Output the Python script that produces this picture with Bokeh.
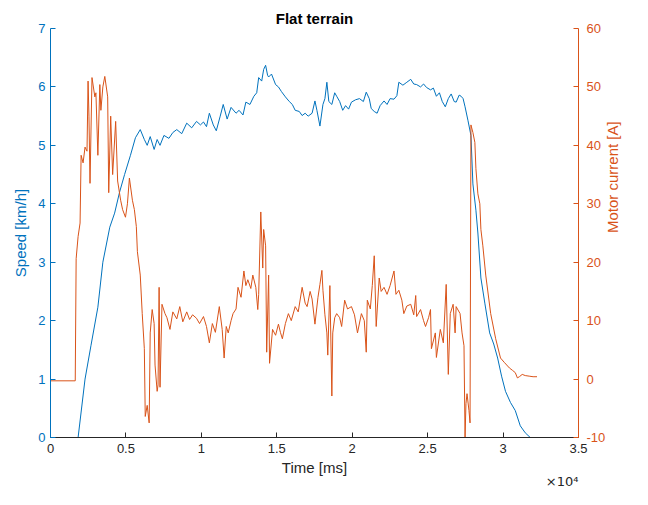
import math
from bokeh.plotting import figure
from bokeh.models import Range1d, LinearAxis, FixedTicker, Title
from bokeh.embed import file_html
from bokeh.resources import INLINE

# ---- data (time in ms) ----
speed_t = [1830, 2290, 2680, 3140, 3470, 3930, 4250, 4580, 4910, 5300,
           5630, 5950, 6220, 6410, 6610, 6870, 7070, 7260, 7520, 7850,
           8110, 8370, 8700, 9030, 9360, 9680, 9940, 10140, 10340, 10530,
           10790, 10990, 11250, 11450, 11710, 11970, 12300, 12500, 12760, 12950,
           13220, 13480, 13670, 13800, 14000, 14130, 14260, 14390, 14460, 14650,
           14920, 15110, 15310, 15570, 15830, 16030, 16220, 16490, 16680, 16880,
           17080, 17340, 17530, 17660, 17860, 18060, 18190, 18320, 18450, 18650,
           18840, 18970, 19170, 19370, 19560, 19760, 19950, 20220, 20480, 20740,
           20930, 21130, 21260, 21460, 21650, 21850, 22110, 22310, 22510, 22770,
           22960, 23090, 23360, 23620, 23880, 24080, 24270, 24530, 24730, 24930,
           25190, 25380, 25580, 25780, 25970, 26170, 26370, 26560, 26760, 26890,
           27090, 27220, 27350, 27480, 27670, 27870, 28000, 28200, 28330, 28530,
           28790, 29110, 29380, 29640, 29900, 30160, 30490, 30810, 31140, 31470,
           31800, 32060]
speed_v = [0.0, 1.0, 1.57, 2.23, 3.0, 3.6, 3.84, 4.2, 4.5, 4.83,
           5.13, 5.27, 5.1, 5.0, 5.15, 4.93, 5.1, 5.0, 5.17, 5.12,
           5.22, 5.27, 5.2, 5.38, 5.3, 5.41, 5.35, 5.4, 5.32, 5.55,
           5.35, 5.25, 5.5, 5.7, 5.45, 5.65, 5.55, 5.6, 5.52, 5.74,
           5.7, 5.84, 5.9, 6.16, 6.1, 6.3, 6.37, 6.2, 6.17, 6.22,
           6.04, 6.0, 5.92, 5.83, 5.75, 5.7, 5.6, 5.58, 5.51, 5.55,
           5.5, 5.55, 5.76, 5.6, 5.33, 5.7, 5.8, 6.08, 5.75, 5.7,
           5.9, 5.84, 5.75, 5.6, 5.68, 5.62, 5.74, 5.78, 5.8, 5.75,
           5.91, 5.8, 5.63, 5.58, 5.55, 5.68, 5.76, 5.7, 5.8, 5.79,
           5.85, 6.08, 6.03, 6.08, 6.13, 6.05, 6.04, 6.0, 6.05, 5.99,
           5.95, 5.98, 5.84, 5.9, 5.75, 5.66, 5.8, 5.88, 5.75, 5.74,
           5.86, 5.84, 5.8, 5.66, 5.43, 5.17, 4.34, 3.89, 3.5, 2.73,
           2.3, 1.79, 1.6, 1.36, 1.05, 0.79, 0.6, 0.46, 0.2, 0.08,
           0.0, -0.1]

current_t = [0, 1640, 1700, 1830, 1960, 2030, 2160, 2290, 2420, 2490,
             2550, 2620, 2750, 2940, 3010, 3140, 3270, 3340, 3470, 3600,
             3790, 3860, 3990, 4120, 4320, 4450, 4650, 4780, 4970, 5100,
             5230, 5430, 5560, 5690, 5760, 5950, 6080, 6220, 6280, 6410,
             6540, 6610, 6740, 6870, 6930, 7070, 7130, 7200, 7260, 7390,
             7590, 7720, 7920, 8110, 8370, 8570, 8770, 9030, 9220, 9420,
             9680, 9880, 10140, 10340, 10530, 10730, 10930, 11190, 11380, 11510,
             11650, 11780, 11970, 12100, 12300, 12430, 12630, 12820, 12950, 13080,
             13280, 13410, 13610, 13740, 13800, 13940, 14070, 14130, 14260, 14330,
             14460, 14520, 14720, 14920, 15110, 15240, 15370, 15570, 15770, 15960,
             16220, 16420, 16680, 16880, 17010, 17210, 17340, 17530, 17730, 17860,
             17990, 18060, 18190, 18320, 18380, 18520, 18650, 18710, 18840, 18970,
             19170, 19300, 19500, 19690, 19950, 20150, 20350, 20610, 20800, 20930,
             21000, 21200, 21330, 21460, 21590, 21790, 21920, 22110, 22310, 22510,
             22770, 22900, 23090, 23290, 23420, 23620, 23880, 24080, 24210, 24270,
             24530, 24730, 24860, 25060, 25190, 25250, 25510, 25580, 25840, 26040,
             26230, 26370, 26500, 26690, 26820, 26890, 27150, 27280, 27410, 27480,
             27540, 27610, 27740, 27810, 27870, 28000, 28130, 28200, 28330, 28460,
             28530, 28660, 28850, 29180, 29510, 29830, 30100, 30420, 30620, 30810,
             30950, 31080, 31270, 31470, 31730, 31990, 32250]
current_v = [-0.3, -0.3, 20.6, 24.4, 26.7, 38.3, 37.0, 39.7, 39.0, 51.0,
             45.0, 33.5, 51.6, 48.3, 49.0, 38.3, 50.4, 46.0, 50.0, 51.8,
             48.3, 31.9, 45.0, 35.0, 44.1, 33.9, 30.6, 29.0, 27.7, 30.0,
             34.4, 30.6, 29.0, 26.1, 21.8, 17.8, 11.2, 5.2, -6.4, -4.5,
             -7.5, 7.9, 11.9, 9.5, 2.4, -2.1, -1.0, 15.7, -1.4, 12.8,
             11.2, 10.5, 8.5, 11.5, 10.3, 12.4, 9.8, 11.5, 10.2, 11.0,
             10.4, 9.5, 10.7, 9.0, 6.2, 9.5, 8.0, 12.4, 8.5, 3.6,
             9.0, 7.9, 10.0, 11.2, 12.0, 15.7, 14.0, 18.5, 16.0, 17.0,
             15.5, 17.8, 15.7, 11.9, 14.5, 28.6, 19.0, 25.6, 22.8, 4.6,
             17.8, 2.7, 8.5, 7.5, 9.4, 8.0, 6.9, 9.5, 11.2, 10.0,
             12.4, 11.5, 15.7, 13.0, 12.4, 15.0, 13.7, 9.4, 14.0, 16.2,
             18.6, 15.2, 11.0, 7.9, 4.1, 16.0, -2.9, 7.9, 10.5, 11.2,
             10.5, 9.0, 13.5, 12.0, 12.4, 11.0, 7.9, 11.2, 10.0, 4.6,
             13.5, 12.0, 16.0, 21.1, 9.0, 17.3, 15.0, 15.7, 14.5, 16.0,
             18.5, 14.5, 15.2, 13.5, 11.2, 12.5, 12.8, 11.0, 14.3, 10.7,
             11.9, 10.0, 9.0, 10.5, 11.9, 5.2, 7.9, 3.7, 8.5, 6.2,
             16.2, 0.8, 11.2, 12.8, 7.9, 12.4, 11.2, 7.9, 5.7, -10.0,
             -4.2, -2.5, -5.4, -7.5, 43.5, 42.2, 40.5, 36.0, 31.7, 30.0,
             25.6, 22.8, 17.8, 11.2, 6.9, 3.6, 2.8, 1.9, 1.5, 1.1,
             0.2, 0.4, 0.8, 0.6, 0.5, 0.4, 0.4]

x_ticks = [0, 5000, 10000, 15000, 20000, 25000, 30000, 35000]
x_tick_labels = ["0", "0.5", "1", "1.5", "2", "2.5", "3", "3.5"]
speed_ticks = [0, 1, 2, 3, 4, 5, 6, 7]
current_ticks = [-10, 0, 10, 20, 30, 40, 50, 60]

BLUE = "#0072BD"
ORANGE = "#D95319"
GREY = "#262626"
FONT = "Liberation Sans"

p = figure(width=632, height=489, output_backend="svg", toolbar_location=None,
           x_range=Range1d(0, 35000), y_range=Range1d(0, 7),
           min_border_left=50, min_border_right=48, min_border_top=28, min_border_bottom=52)
p.extra_y_ranges = {"cur": Range1d(-10, 60)}
p.xgrid.visible = False
p.ygrid.visible = False
p.outline_line_color = None
p.background_fill_color = "white"

p.title.text = "Flat terrain"
p.title.align = "center"
p.title.text_font = FONT
p.title.text_font_size = "15px"
p.title.text_font_style = "bold"
p.title.text_color = "black"
p.title.standoff = 4

# x axis
xa = p.xaxis[0]
xa.ticker = FixedTicker(ticks=x_ticks)
xa.major_label_overrides = {t: l for t, l in zip(x_ticks, x_tick_labels)}
xa.axis_label = "Time [ms]"
# left axis
ya = p.yaxis[0]
ya.ticker = FixedTicker(ticks=speed_ticks)
ya.axis_label = "Speed [km/h]"

ra = LinearAxis(y_range_name="cur", ticker=FixedTicker(ticks=current_ticks),
                axis_label="Motor current [A]")
ra.major_label_overrides = {t: str(t) for t in current_ticks}
p.add_layout(ra, "right")

for ax, col in ((xa, GREY), (ya, BLUE), (ra, ORANGE)):
    ax.axis_line_color = col
    ax.major_tick_line_color = col
    ax.major_label_text_color = col
    ax.axis_label_text_color = col
    ax.major_tick_in = 5
    ax.major_tick_out = 0
    ax.minor_tick_line_color = None
    ax.major_label_text_font = FONT
    ax.major_label_text_font_size = "13px"
    ax.axis_label_text_font = FONT
    ax.axis_label_text_font_size = "15px"
    ax.axis_label_text_font_style = "normal"
xa.major_label_standoff = 6
xa.axis_label_standoff = 3
ya.major_label_standoff = 5
ya.axis_label_standoff = 6
ra.major_label_standoff = 8
ra.axis_label_standoff = 4
ra.axis_label_orientation = math.pi / 2

p.line(speed_t, speed_v, line_color=BLUE, line_width=1)
p.line(current_t, current_v, y_range_name="cur", line_color=ORANGE, line_width=1)

exp_title = Title(text="\u00d710\u2074", align="right", text_font="DejaVu Sans", text_font_size="13px",
                  text_font_style="normal", text_color=GREY, standoff=-14)
p.add_layout(exp_title, "below")

open("out.html", "w").write(file_html(p, INLINE))
